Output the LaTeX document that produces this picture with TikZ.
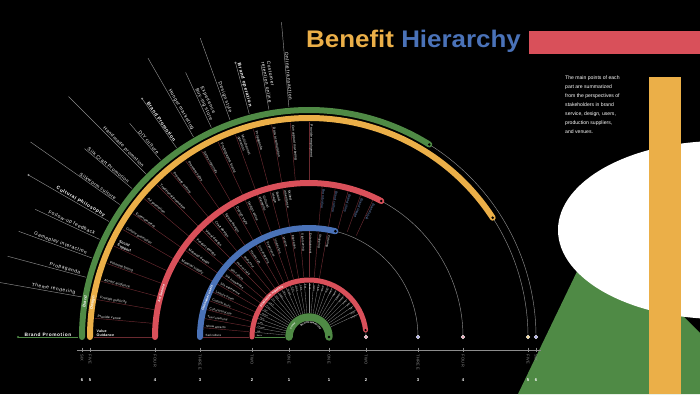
\documentclass[tikz,border=0pt]{standalone}
\usepackage{fontspec}
\usetikzlibrary{decorations.text}
\setmainfont{Liberation Sans}
\newfontfamily\lsp[LetterSpace=12]{Liberation Sans}
\newfontfamily\lspb[LetterSpace=4]{Liberation Sans}
\definecolor{cg}{HTML}{4F8A45}
\definecolor{cy}{HTML}{EBAF48}
\definecolor{cr}{HTML}{D9505A}
\definecolor{cb}{HTML}{4A72B8}
\definecolor{dr}{HTML}{6A2A30}
\definecolor{gl}{HTML}{8C8C8C}
\definecolor{mpink}{HTML}{E7A2B4}
\definecolor{mlav}{HTML}{A9A9E6}
\definecolor{mcream}{HTML}{F2D38E}
\tikzset{
  olab/.style={text=white, font=\fontsize{4.8}{5.5}\selectfont\lsp, inner sep=0.6pt, align=left},
  mlab/.style={text=white, font=\fontsize{3.4}{4}\selectfont\lspb, inner sep=0.5pt, align=left},
  ilab/.style={text=white, font=\fontsize{2}{2.4}\selectfont\lspb, inner sep=0.1pt},
  ring/.style={line width=#1, line cap=round},
  thin/.style={draw=gl, line width=0.45},
  axlab/.style={text=gl, font=\fontsize{4}{4}\selectfont\lsp, rotate=-90, anchor=west, inner sep=0pt},
  numlab/.style={text=white, font=\fontsize{4.2}{4}\selectfont\bfseries, inner sep=0pt},
  marker/.style={circle, draw=white, line width=0.3, minimum size=3.6pt, inner sep=0pt},
  ringlab/.style={text=white, font=\fontsize{4}{4}\selectfont\bfseries, inner sep=0pt}
}
% outer label: [style] angle, outer radius, text
\newcommand\OL[4][]{%
  \draw[thin] (#2:231) -- (#2:#3);
  \node[olab,#1,rotate=#2-180,anchor=south east] (ol#2) at (#2:237) {#4};}
\newcommand\OLD[4][gl]{%
  \draw[thin, draw=#1] (#2:231) -- (#2:#3);
  \fill[#1] (#2:#3) circle (1.1);
  \node[olab,font=\fontsize{4.8}{5.5}\selectfont\lsp\bfseries,rotate=#2-180,anchor=south east] (ol#2) at (#2:237) {#4};}
% middle label (yellow-red band)
\newcommand\ML[3][]{%
  \draw[dr, line width=0.45] (#2:157) -- (#2:215);
  \node[mlab,#1,rotate=#2-180,anchor=south west] (ml#2) at (#2:213) {#3};}
% red-blue band
\newcommand\RL[3][]{%
  \draw[dr, line width=0.45] (#2:112) -- (#2:151);
  \node[mlab,#1,rotate=#2-180,anchor=south west] (rl#2) at (#2:149) {#3};}
% inside blue band
\newcommand\BL[2]{%
  \draw[dr, line width=0.45] (#1:60) -- (#1:106);
  \node[mlab,font=\fontsize{3}{3.5}\selectfont\lspb,rotate=#1-180,anchor=south west] (bl#1) at (#1:104) {#2};}
% inner band
\newcommand\IL[2]{%
  \draw[gl, line width=0.3] (#1:24) -- (#1:54);
  \node[ilab,rotate=#1-180,anchor=south west] (il#1) at (#1:52.5) {#2};}
\begin{document}
\begin{tikzpicture}[x=1pt,y=1pt]
\fill[black] (-309,-57) rectangle (391,337);
\useasboundingbox (-309,-57) rectangle (391,337);
% right decoration
\fill[cg] (209,-57) -- (288,107) -- (391,4) -- (391,-57) -- cycle;
\fill[white] (411,107) ellipse [x radius=162, y radius=89];
\fill[cy] (340,260) rectangle (372,-57);
\fill[cr] (220,306) rectangle (391,283);
% title
\node[anchor=base west, inner sep=0pt, xscale=1.08, font=\fontsize{24}{24}\selectfont\bfseries] (title) at (-3,289)
  {\textcolor{cy}{Benefit} \textcolor{cb}{Hierarchy}};
\node[anchor=north west, inner sep=0pt, text=white, align=left,
  font=\fontsize{5.1}{8.9}\selectfont] (desc) at (256,261)
  {The main points of each\\part are summarized\\from the perspectives of\\stakeholders in brand\\service, design, users,\\production suppliers,\\and venues.};
% axis
\draw[gl, line width=0.5] (-232,-13) -- (232,-13);
\foreach \r/\w in {227/SIX,219/FIVE,154/FOUR,109/THREE,57/TWO,20/ONE}{
  \draw[gl, line width=0.4] (-\r,-10.5) -- (-\r,-15);
  \draw[gl, line width=0.4] (\r,-10.5) -- (\r,-15);
  \node[axlab] at (-\r,-17) {\w};
  \node[axlab] at (\r,-17) {\w};
}
\foreach \r/\n in {227/6,219/5,154/4,109/3,57/2,20/1}{
  \node[numlab] at (-\r,-43) {\n};
  \node[numlab] at (\r,-43) {\n};
}
% thin continuations
\draw[thin] (58:227) arc[start angle=58, end angle=0, radius=227];
\draw[thin] (33:219) arc[start angle=33, end angle=0, radius=219];
\draw[thin] (62:154) arc[start angle=62, end angle=0, radius=154];
\draw[thin] (76:109) arc[start angle=76, end angle=0, radius=109];
\draw[thin] (7:57) arc[start angle=7, end angle=0, radius=57];
\node[marker, fill=mlav] (m6) at (227,0) {};
\node[marker, fill=mcream] (m5) at (219,0) {};
\node[marker, fill=mpink] (m4) at (154,0) {};
\node[marker, fill=mlav] (m3) at (109,0) {};
\node[marker, fill=mpink] (m2) at (57,0) {};
% outer labels
\OLD[cg]{180}{291}{Brand Promotion}
\OL{170}{314}{Theme rendering}
\OL{165}{312}{Propaganda}
\OL{160}{309}{Gameplay interaction}
\OL{155}{302}{Follow-up feedback}
\OLD{150}{324}{Cultural Philosophy}
\OL{145}{340}{Silkworm culture}
\OL{140}{293}{Silk Craft Promotion}
\OL{135}{340}{Handmade promotion}
\OL{130}{279}{DIY culture}
\OLD{125}{291}{Brand Promotion}
\OL{120}{322}{Hunger marketing}
\OL{115}{292}{Experience\\Buy-ing store}
\OL{110}{318}{Design style}
\OLD{105}{284}{Brand operation}
\OL{100}{276}{Customer\\retention online}
\OL{95}{316}{Online transaction}
% yellow-red band labels
\ML[font=\fontsize{3.6}{4}\selectfont\lspb\bfseries]{180}{Value\\Guidance}
\ML{175}{Provide venue}
\ML{170}{Provide publicity}
\ML{165}{Attract audience}
\ML{160}{Promote brand}
\ML[font=\fontsize{3.6}{4}\selectfont\lspb\bfseries]{155}{Social\\Support}
\ML{150}{Culture promotion}
\ML{145}{Entertainment}
\ML{140}{Art promotion}
\ML{135}{Traditional promotion}
\ML{130}{Promote culture}
\ML{125}{Promote sales}
\ML{120}{Sales channels}
\ML{115}{Photographic brand}
\ML{110}{Multichannel\\operation}
\ML{105}{Propaganda}
\ML{100}{Data accumulation}
\ML{95}{Conceptual marketing}
\ML{90}{Provide employment}
% red-blue band labels
\RL{150}{Material supply}
\RL{145}{Material design}
\RL{140}{Product design}
\RL{135}{Visual design}
\RL{130}{Craft design}
\RL{125}{Space design}
\RL{120}{Design style}
\RL{115}{Design value}
\RL{110}{Cultural\\elements}
\RL{105}{Brand\\image}
\RL{100}{Skilled\\inheritance}
\RL[text=cb!80!white]{85}{Brand value}
\RL[text=cb!80!white]{80}{Brand culture}
\RL[text=cb!80!white]{75}{Brand story}
\RL[text=cb!80!white]{70}{Brand image}
\RL[text=cb!80!white]{65}{Brand style}
% inside blue band
\BL{180}{Sericulture}
\BL{175}{Show attracts}
\BL{170}{Tea ceremony}
\BL{165}{Cultural tourism}
\BL{160}{Cultural tours}
\BL{155}{Leisure travel}
\BL{150}{Silk experience}
\BL{145}{Silk knowledge}
\BL{140}{Silk culture}
\BL{135}{Parent-child}
\BL{130}{Study tour}
\BL{125}{Handicraft}
\BL{120}{Silk shopping}
\BL{115}{Experience}
\BL{110}{Interaction}
\BL{105}{Leisure}
\BL{100}{Education}
\BL{95}{Sightseeing}
\BL{90}{Entertainment}
\BL{85}{Shopping}
\BL{80}{Catering}
% inner band
\foreach \a/\t in {180/Basic,175/Silk,170/Cocoon,165/Leaf,160/Reel,155/Weave,150/Dye,145/Print,140/Stitch,135/Cut,130/Sew,125/Fabric,120/Yarn,115/Thread,110/Quilt,105/Scarf,100/Cloth,95/Bed,90/Tools,85/Looms,80/Crafts,75/Pack,70/Ship,65/Store,60/Sales,55/Supply,50/Check,45/Stock,40/Silk,35/Mill,30/Shop,25/Labour}{
  \IL{\a}{\t}
}
\draw[cg, line width=0.4] (180:24) -- (180:54);
% main rings
\draw[ring=6, cg] (180:227) arc[start angle=180, end angle=58, radius=227];
\fill[black] (58:227) circle (1.4);
\draw[ring=6, cy] (180:219) arc[start angle=180, end angle=33, radius=219];
\fill[black] (33:219) circle (1.4);
\draw[ring=6, cr] (180:154) arc[start angle=180, end angle=62, radius=154];
\fill[black] (62:154) circle (1.4);
\draw[ring=6, cb] (180:109) arc[start angle=180, end angle=76, radius=109];
\fill[black] (76:109) circle (1.4);
\draw[ring=5, cr] (180:57) arc[start angle=180, end angle=7, radius=57];
\fill[black] (7:57) circle (1.2);
\draw[ring=7.5, cg] (180:20) arc[start angle=180, end angle=0, radius=20];
\fill[black] (0:20) circle (1.4);
% ring labels
\node[ringlab, rotate=81] (rb) at (171:227) {Brand};
\node[ringlab, rotate=81] (rd) at (171:219) {Design};
\node[ringlab, font=\fontsize{3.4}{4}\selectfont\bfseries, rotate=73.5] (rs) at (163.5:154) {Art Service};
\node[ringlab, font=\fontsize{3.4}{4}\selectfont\bfseries, rotate=69] (ru) at (159:109) {Consumer users};
\path[decorate, decoration={text along path, text align=center,
  text={|\fontsize{3}{3}\selectfont\bfseries\color{white}|Production suppliers}}]
  (170:55.9) arc[start angle=170, end angle=95, radius=55.9];
\path[decorate, decoration={text along path, text align=center,
  text={|\fontsize{2.4}{3}\selectfont\bfseries\color{white}|Venue}}]
  (170:19.2) arc[start angle=170, end angle=120, radius=19.2];
\path[decorate, decoration={text along path, text align=center,
  text={|\fontsize{2.6}{3}\selectfont\bfseries\color{white}|Benefit Hierarchy}}]
  (150:13.5) arc[start angle=150, end angle=10, radius=13.5];
\end{tikzpicture}
\end{document}
